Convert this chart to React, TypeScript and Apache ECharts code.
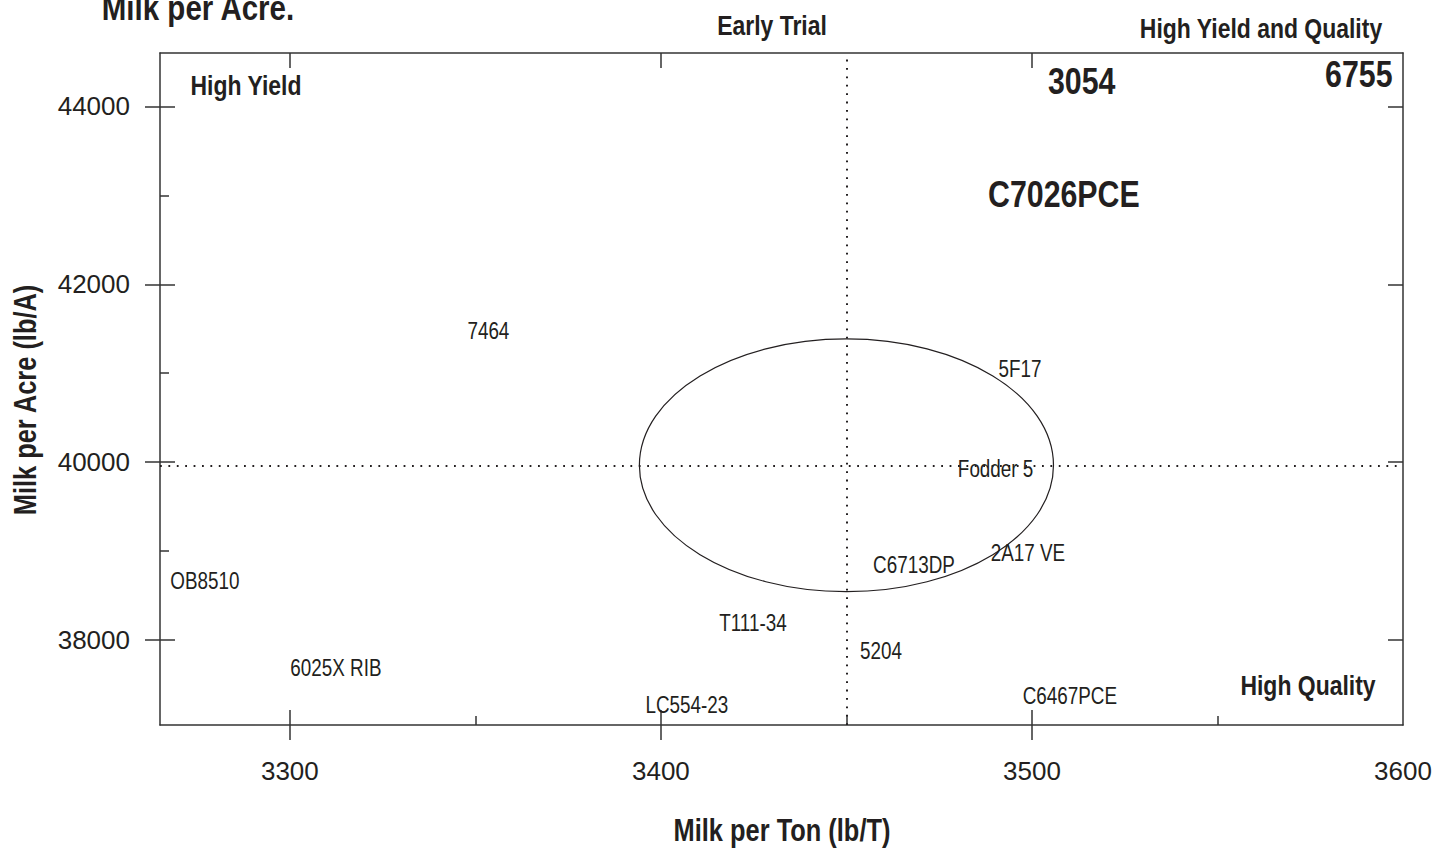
import React, { useEffect, useRef } from "react";
import * as echarts from "echarts";

// ---- data ----
const hybridNames = ["7464", "5F17", "Fodder 5", "2A17 VE", "C6713DP", "OB8510", "6025X RIB", "T111-34", "5204", "LC554-23", "C6467PCE"];
const milkPerTon = [3353.5, 3496.8, 3490.2, 3498.9, 3468.2, 3277.1, 3312.4, 3424.8, 3459.3, 3407.0, 3510.2];
const milkPerAcre = [41472, 41045, 39921, 38978, 38843, 38669, 37691, 38191, 37876, 37270, 37371];

const topNames = ["C7026PCE", "3054", "6755"];
const topMilkPerTon = [3508.6, 3513.4, 3588.1];
const topMilkPerAcre = [43011, 44292, 44360];

const meanMilkPerTon = 3450;
const meanMilkPerAcre = 39965;
const ellipseRadiusTon = 55.8;
const ellipseRadiusAcre = 1421;

const xRange = [3265, 3600];
const yRange = [37045, 44600];
const xMajorTicks = [3300, 3400, 3500];
const xTickLabels = [3300, 3400, 3500, 3600];
const xMinorTicks = [3350, 3450, 3550];
const yMajorTicks = [38000, 40000, 42000, 44000];
const yTickLabels = [38000, 40000, 42000, 44000];
const yMinorTicks = [39000, 41000, 43000];

const FONT = "'Liberation Sans Narrow', 'Arial Narrow', 'Liberation Sans', Arial, sans-serif";
const INK = "#231f20";
const AXIS = "#333333";
const NARROW = 0.82;

function makeAxis(dim: "x" | "y", position: string, opts: any) {
  const range = dim === "x" ? xRange : yRange;
  return {
    type: "value",
    gridIndex: 0,
    position,
    min: range[0],
    max: range[1],
    splitLine: { show: false },
    axisLine: { show: !!opts.line, onZero: false, lineStyle: { color: AXIS, width: 1.5 } },
    axisTick: opts.ticks
      ? { show: true, inside: opts.inside, length: opts.length, customValues: opts.ticks, lineStyle: { color: AXIS, width: 1.5 } }
      : { show: false },
    axisLabel: opts.labels
      ? {
          show: true,
          customValues: opts.labels,
          margin: opts.margin,
          fontSize: 26,
          fontFamily: FONT,
          color: INK,
          formatter: (v: number) => String(v),
        }
      : { show: false },
  };
}

function labelSeries(names: string[], xs: number[], ys: number[], fontSize: number, bold: boolean) {
  return {
    type: "custom",
    xAxisIndex: 0,
    yAxisIndex: 0,
    silent: true,
    data: xs.map((x, i) => [x, ys[i]]),
    renderItem: (params: any, api: any) => {
      const c = api.coord([api.value(0), api.value(1)]);
      return {
        type: "text",
        x: c[0],
        y: c[1],
        scaleX: NARROW,
        style: {
          text: names[params.dataIndex],
          fontSize,
          fontWeight: bold ? "bold" : "normal",
          fontFamily: FONT,
          fill: INK,
          textAlign: "center",
          textVerticalAlign: "middle",
        },
      };
    },
  };
}

function note(text: string, x: number, y: number, fontSize: number, rotation = 0) {
  return {
    type: "text",
    x,
    y,
    rotation,
    scaleX: NARROW,
    style: { text, fontSize, fontWeight: "bold", fontFamily: FONT, fill: INK, textAlign: "center", textVerticalAlign: "middle" },
  };
}

export default function App() {
  const ref = useRef<HTMLDivElement>(null);
  useEffect(() => {
    if (!ref.current) return;
    const chart = echarts.init(ref.current, undefined, { renderer: "svg" });
    const option: any = {
      animation: false,
      backgroundColor: "#ffffff",
      grid: { left: 160, top: 53, width: 1243, height: 672, containLabel: false },
      xAxis: [
        makeAxis("x", "bottom", { line: true, ticks: xMajorTicks, inside: true, length: 15, labels: xTickLabels, margin: 33 }),
        makeAxis("x", "bottom", { ticks: xMajorTicks, inside: false, length: 15 }),
        makeAxis("x", "bottom", { ticks: xMinorTicks, inside: true, length: 9 }),
        makeAxis("x", "top", { line: true, ticks: xMajorTicks, inside: true, length: 15 }),
      ],
      yAxis: [
        makeAxis("y", "left", { line: true, ticks: yMajorTicks, inside: true, length: 15, labels: yTickLabels, margin: 30 }),
        makeAxis("y", "left", { ticks: yMajorTicks, inside: false, length: 15 }),
        makeAxis("y", "left", { ticks: yMinorTicks, inside: true, length: 9 }),
        makeAxis("y", "right", { line: true, ticks: yMajorTicks, inside: true, length: 15 }),
      ],
      series: [
        {
          type: "scatter",
          name: "hybrids",
          xAxisIndex: 0,
          yAxisIndex: 0,
          symbolSize: 0,
          silent: true,
          data: milkPerTon.map((x, i) => [x, milkPerAcre[i]]),
          markLine: {
            silent: true,
            symbol: "none",
            label: { show: false },
            lineStyle: { color: INK, width: 2, type: [1.8, 6.6] },
            data: [{ xAxis: meanMilkPerTon }, { yAxis: meanMilkPerAcre }],
          },
        },
        labelSeries(hybridNames, milkPerTon, milkPerAcre, 23, false),
        labelSeries(topNames, topMilkPerTon, topMilkPerAcre, 37, true),
        {
          type: "custom",
          name: "ellipse",
          xAxisIndex: 0,
          yAxisIndex: 0,
          silent: true,
          data: [[meanMilkPerTon, meanMilkPerAcre, ellipseRadiusTon, ellipseRadiusAcre]],
          renderItem: (params: any, api: any) => {
            const c = api.coord([api.value(0), api.value(1)]);
            const s = api.size([api.value(2), api.value(3)]);
            return {
              type: "ellipse",
              shape: { cx: c[0], cy: c[1], rx: s[0], ry: s[1] },
              style: { fill: "none", stroke: INK, lineWidth: 1.2 },
            };
          },
        },
      ],
      graphic: [
        note("Milk per Acre.", 198, 7, 36),
        note("Early Trial", 772, 25, 28),
        note("High Yield and Quality", 1261, 28, 28),
        note("High Yield", 246, 85, 28),
        note("High Quality", 1308, 685, 28),
        note("Milk per Ton (lb/T)", 782, 830, 31),
        note("Milk per Acre (lb/A)", 25, 400, 31, Math.PI / 2),
      ],
    };
    chart.setOption(option);
    return () => chart.dispose();
  }, []);
  return <div ref={ref} style={{ position: "absolute", left: 0, top: 0, width: 1444, height: 851 }} />;
}
